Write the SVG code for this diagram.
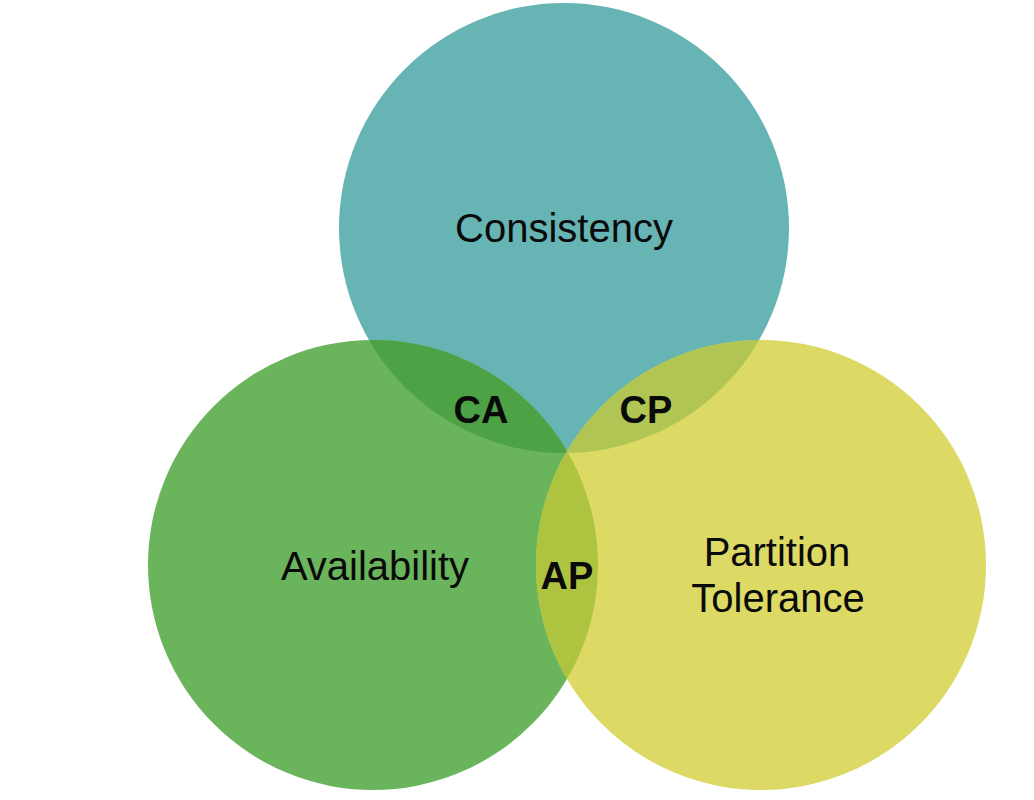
<svg xmlns="http://www.w3.org/2000/svg" width="1034" height="800" viewBox="0 0 1034 800">
  <style>
    .label { font-family: "Liberation Sans", Arial, sans-serif; font-size: 40px; fill: #0a0a0a; text-anchor: middle; }
    .pair { font-family: "Liberation Sans", Arial, sans-serif; font-size: 38px; font-weight: bold; fill: #0a0a0a; text-anchor: middle; }
  </style>
  <defs>
    <clipPath id="clipC"><circle cx="564" cy="228" r="225"/></clipPath>
    <clipPath id="clipA"><circle cx="373" cy="565" r="225"/></clipPath>
  </defs>
  <rect width="1034" height="800" fill="#ffffff"/>
  <g id="consistency">
    <circle cx="564" cy="228" r="225" fill="#66B4B4"/>
  </g>
  <g id="availability">
    <circle cx="373" cy="565" r="225" fill="#6AB45C"/>
  </g>
  <g id="partition-tolerance">
    <circle cx="761" cy="565" r="225" fill="#DCD965"/>
  </g>
  <g id="ca">
    <circle cx="373" cy="565" r="225" fill="#4DA245" clip-path="url(#clipC)"/>
  </g>
  <g id="cp">
    <circle cx="761" cy="565" r="225" fill="#B0C553" clip-path="url(#clipC)"/>
  </g>
  <g id="ap">
    <circle cx="761" cy="565" r="225" fill="#AEC441" clip-path="url(#clipA)"/>
  </g>
  <g id="connectors"></g>
  <g id="texts">
    <text class="label" x="564" y="242">Consistency</text>
    <text class="label" x="375" y="580">Availability</text>
    <text class="label" x="777" y="566">Partition</text>
    <text class="label" x="778" y="612">Tolerance</text>
    <text class="pair" x="481" y="423">CA</text>
    <text class="pair" x="646" y="423">CP</text>
    <text class="pair" x="567" y="589">AP</text>
  </g>
</svg>
